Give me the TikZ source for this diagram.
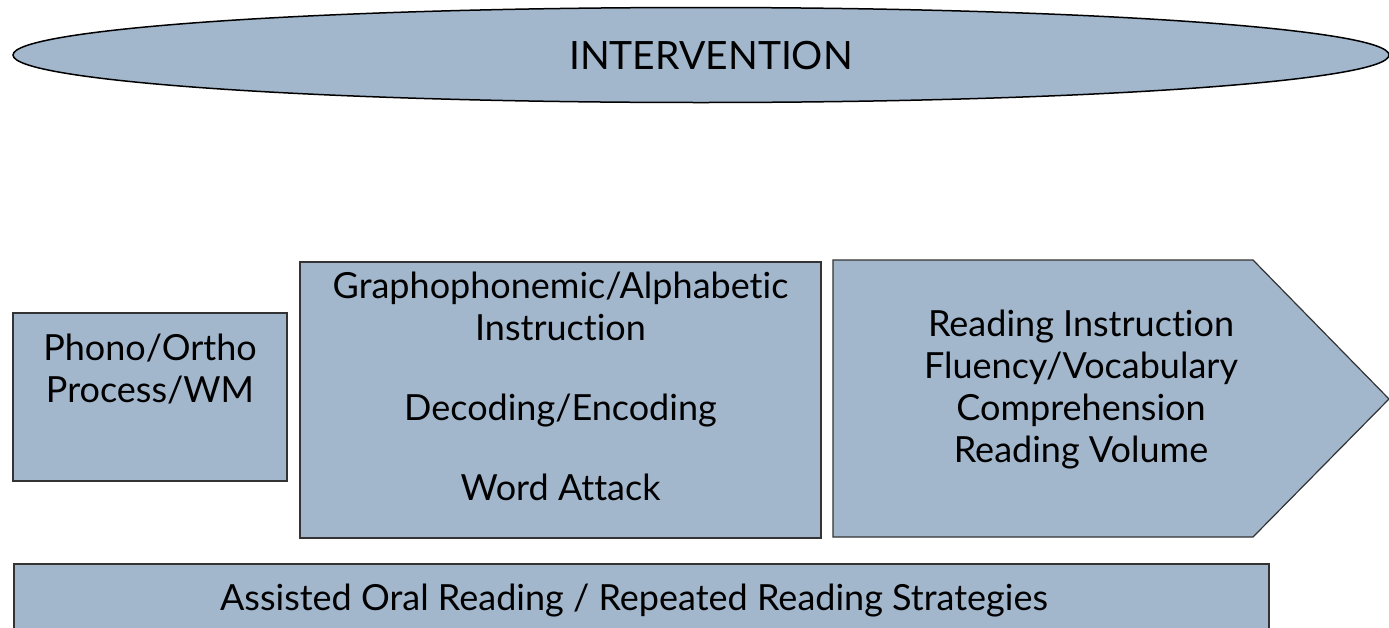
\documentclass[tikz,border=0pt]{standalone}
\usepackage{fontspec}
\setmainfont{Lato}[Ligatures=NoCommon]
\usepackage{xcolor}
\usetikzlibrary{calc, shapes.geometric, positioning}
\definecolor{panelblue}{HTML}{A2B6CC}

\begin{document}
\begin{tikzpicture}[x=1pt, y=-1pt,
    panel/.style={draw=black!80, line width=1.2pt, fill=panelblue, inner sep=0pt},
    lbl/.style={font=\fontsize{36}{42}\selectfont, align=center, text=black, inner sep=0pt}]
    \useasboundingbox (0,0) rectangle (1389,627);

    % Elip tiêu đề phía trên
    \node[panel, ellipse, draw=black, line width=1.5pt, minimum width=1376pt, minimum height=95pt] (interv) at (701,55) {};
    \node[lbl, font=\fontsize{39}{42}\selectfont] (intervtxt) at (711,56) {INTERVENTION};

    % Ô bên trái
    \node[panel, minimum width=274pt, minimum height=168pt] (phono) at (150,397) {};
    \node[lbl] (phonotxt) at (150,369) {Phono/Ortho\\Process/WM};

    % Ô ở giữa
    \node[panel, minimum width=521pt, minimum height=276pt] (grapho) at (560.5,400) {};
    \node[lbl] (graphotxt) at (560.5,386) {Graphophonemic/Alphabetic\\Instruction\\[38pt]
        Decoding/Encoding\\[38pt]Word Attack};

    % Mũi tên năm cạnh bên phải
    \coordinate (tip) at (1389,399);
    \draw[panel] (833,260) -- (1253,260) -- (tip) -- (1253,537) -- (833,537) -- cycle;
    \node[lbl] (readtxt) at (1081,390) {Reading Instruction\\Fluency/Vocabulary\\
        Comprehension\\Reading Volume};

    % Thanh dưới cùng
    \draw[panel] (14,564) rectangle (1269,650);
    \node[lbl] (assisted) at (634,601) {Assisted Oral Reading / Repeated Reading Strategies};
\end{tikzpicture}
\end{document}
